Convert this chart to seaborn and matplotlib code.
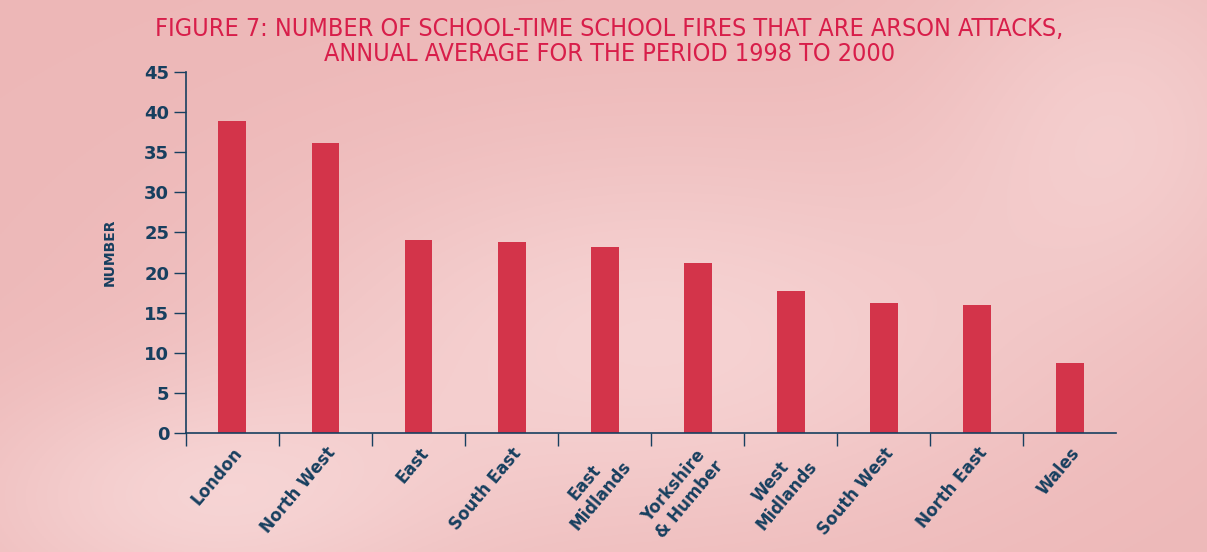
import numpy as np
import matplotlib
matplotlib.use("Agg")
import matplotlib.pyplot as plt
import seaborn as sns
import pandas as pd

regions = ["London", "North West", "East", "South East", "East\nMidlands",
           "Yorkshire\n& Humber", "West\nMidlands", "South West", "North East", "Wales"]
fires = [38.9, 36.2, 24.1, 23.85, 23.15, 21.2, 17.7, 16.2, 16.0, 8.7]
y_ticks = [0, 5, 10, 15, 20, 25, 30, 35, 40, 45]

title = ("FIGURE 7: NUMBER OF SCHOOL-TIME SCHOOL FIRES THAT ARE ARSON ATTACKS,\n"
         "ANNUAL AVERAGE FOR THE PERIOD 1998 TO 2000")

navy = "#173f5f"
bar_red = "#d3344a"
title_red = "#d81e4a"

sns.set_theme(style="white")
plt.rcParams['font.family'] = ['DejaVu Sans']

fig = plt.figure(figsize=(12.07, 5.52), dpi=100)

# pink background with soft light patches
bg = fig.add_axes([0, 0, 1, 1], zorder=-10)
h, w = 276, 604
yy, xx = np.mgrid[0:h, 0:w]
base = np.array([0.93, 0.72, 0.72])
light = np.exp(-(((xx - 330) / 200.0) ** 2 + ((yy - 170) / 100.0) ** 2))
light2 = np.exp(-(((xx - 560) / 90.0) ** 2 + ((yy - 60) / 90.0) ** 2)) * 0.4
light3 = np.exp(-(((xx - 100) / 120.0) ** 2 + ((yy - 250) / 60.0) ** 2)) * 0.5
l = np.clip(light * 0.55 + light2 + light3, 0, 1)[..., None]
img = base * (1 - l) + np.array([0.99, 0.91, 0.91]) * l
bg.imshow(img, aspect="auto", extent=[0, 1, 0, 1])
bg.axis("off")

ax = fig.add_axes([0.154, 0.2156, 0.771, 0.654])
ax.patch.set_alpha(0)

df = pd.DataFrame({"region": regions, "fires": fires})
sns.barplot(data=df, x="region", y="fires", color=bar_red, width=0.3,
            saturation=1, ax=ax, edgecolor="none")

ax.set_xlim(-0.5, 9.5)
ax.set_ylim(0, 45)
ax.set_yticks(y_ticks)
ax.set_yticklabels([str(t) for t in y_ticks], fontsize=13, fontweight="bold", color=navy)

ax.set_xticks(np.arange(-0.5, 9.0, 1.0))
ax.set_xticklabels([""] * 10)
ax.set_xticks(np.arange(10), minor=True)
ax.set_xticklabels(regions, minor=True, rotation=50, ha="right", va="top",
                   rotation_mode="anchor", fontsize=12, fontweight="bold",
                   color=navy, multialignment="center")
ax.tick_params(axis="x", which="major", bottom=True, length=9, width=1,
               color=navy, direction="out")
ax.tick_params(axis="x", which="minor", bottom=True, length=0, pad=8)
ax.tick_params(axis="y", which="major", left=True, length=9, width=1,
               color=navy, direction="out", pad=3)

for s in ["top", "right"]:
    ax.spines[s].set_visible(False)
for s in ["left", "bottom"]:
    ax.spines[s].set_color(navy)
    ax.spines[s].set_linewidth(1.2)

ax.set_xlabel("")
ax.set_ylabel("NUMBER", fontsize=10, fontweight="bold", color=navy, labelpad=20)

fig.text(0.505, 0.97, title, ha="center", va="top", fontsize=18,
         color=title_red, fontstretch="condensed", linespacing=1.05)

fig.savefig("out.png", dpi=100)
